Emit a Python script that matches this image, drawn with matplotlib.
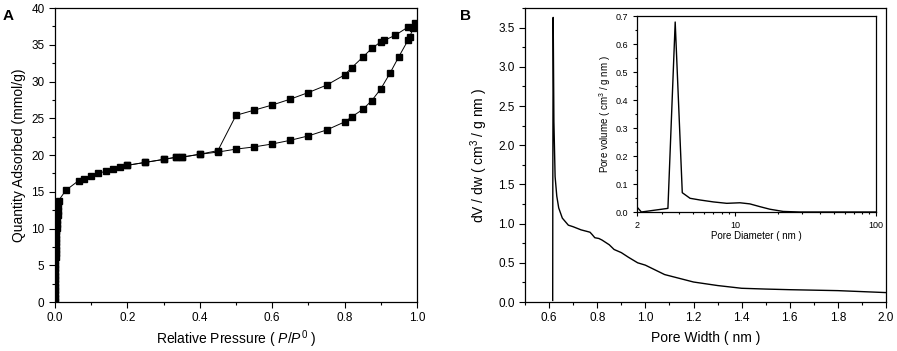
import numpy as np
import matplotlib
matplotlib.use("Agg")
import matplotlib.pyplot as plt
from matplotlib.ticker import MultipleLocator, LogLocator, FixedLocator, NullFormatter

plt.rcParams['font.family'] = ['Liberation Sans', 'DejaVu Sans']
plt.rcParams['mathtext.fontset'] = 'custom'
plt.rcParams['mathtext.rm'] = 'Liberation Sans'
plt.rcParams['mathtext.it'] = 'Liberation Sans:italic'

# Panel A: N2 isotherm, adsorption branch (dense points at very low pressure)
ads_p = [0.0001, 0.0002, 0.0003, 0.0004, 0.0005, 0.0006, 0.0007, 0.0008, 0.0009, 0.001,
         0.0012, 0.0014, 0.0016, 0.0018, 0.002, 0.0023, 0.0026, 0.003, 0.0035, 0.004,
         0.0045, 0.005, 0.006, 0.007, 0.008, 0.009, 0.01,
         0.03, 0.065, 0.08, 0.10, 0.12, 0.14, 0.16, 0.18, 0.20, 0.25, 0.30, 0.335, 0.35, 0.40,
         0.45, 0.50, 0.55, 0.60, 0.65, 0.70, 0.75, 0.80, 0.82, 0.85, 0.875, 0.90, 0.925,
         0.95, 0.975, 0.98, 0.99]
ads_q = [0.1, 0.6, 1.1, 1.6, 2.1, 2.6, 3.1, 3.6, 4.1, 4.6,
         5.1, 5.6, 6.1, 6.6, 7.1, 7.6, 8.1, 8.6, 9.1, 9.6,
         10.1, 10.6, 11.2, 11.8, 12.4, 13.0, 13.8,
         15.2, 16.5, 16.8, 17.2, 17.5, 17.8, 18.1, 18.3, 18.6, 19.0, 19.4, 19.7, 19.7, 20.1,
         20.4, 20.8, 21.1, 21.5, 22.0, 22.6, 23.4, 24.5, 25.2, 26.2, 27.4, 29.0, 31.1,
         33.4, 35.6, 36.1, 37.3]
# desorption branch
des_p = [0.995, 0.975, 0.94, 0.91, 0.90, 0.875, 0.85, 0.82, 0.80, 0.75, 0.70, 0.65, 0.60,
         0.55, 0.50, 0.45, 0.40, 0.35, 0.335, 0.30, 0.25, 0.20]
des_q = [37.9, 37.4, 36.3, 35.6, 35.4, 34.5, 33.3, 31.9, 30.9, 29.5, 28.5, 27.6, 26.8,
         26.1, 25.4, 20.6, 20.1, 19.7, 19.7, 19.4, 19.0, 18.6]

# Panel B: micropore size distribution
pw = [0.615, 0.6155, 0.617, 0.62, 0.625, 0.632, 0.64, 0.655, 0.68, 0.70, 0.733, 0.758, 0.77,
      0.779, 0.79, 0.807, 0.82, 0.85, 0.87, 0.90, 0.93, 0.968, 1.00, 1.08, 1.20, 1.30,
      1.40, 1.50, 1.60, 1.80, 2.00]
dvdw = [0.02, 1.5, 3.63, 2.3, 1.6, 1.35, 1.20, 1.07, 0.98, 0.96, 0.92, 0.90, 0.89,
        0.86, 0.82, 0.81, 0.79, 0.73, 0.67, 0.63, 0.57, 0.50, 0.47, 0.35, 0.255, 0.21,
        0.175, 0.165, 0.157, 0.145, 0.12]

# inset: mesopore distribution
pd_nm = [2.0, 2.15, 3.32, 3.74, 4.2, 4.77, 5.6, 7.0, 8.7, 10.8, 12.7, 15.0, 17.6, 21.9, 28.7, 50.0, 100.0]
pv = [0.018, 0.0, 0.013, 0.679, 0.069, 0.049, 0.043, 0.036, 0.031, 0.033, 0.029, 0.019, 0.010, 0.002, 0.0, 0.0, 0.0]


def style_axes(ax, fs=8.5):
    ax.tick_params(which='both', direction='out', top=False, right=False, labelsize=fs, width=0.8)
    ax.tick_params(which='major', length=4)
    ax.tick_params(which='minor', length=2)
    for s in ax.spines.values():
        s.set_linewidth(0.9)


fig = plt.figure(figsize=(8.97, 3.51), dpi=100)

axA = fig.add_axes([0.0613, 0.1396, 0.4036, 0.8376])
axA.plot(ads_p, ads_q, color='black', lw=0.7, marker='s', ms=5)
axA.plot(des_p, des_q, color='black', lw=0.7, marker='s', ms=5)
axA.set_xlim(0, 1.0)
axA.set_ylim(0, 40)
axA.xaxis.set_major_locator(MultipleLocator(0.2))
axA.xaxis.set_minor_locator(MultipleLocator(0.1))
axA.yaxis.set_major_locator(MultipleLocator(5))
axA.yaxis.set_minor_locator(MultipleLocator(2.5))
axA.xaxis.set_major_formatter(matplotlib.ticker.FormatStrFormatter('%.1f'))
style_axes(axA)
axA.set_xlabel(r'Relative Pressure ( $\mathit{P/P}^{\mathit{0}}$ )', fontsize=10, labelpad=3)
axA.set_ylabel('Quantity Adsorbed (mmol/g)', fontsize=10, labelpad=4)
fig.text(0.003, 0.975, 'A', fontsize=11, fontweight='bold', va='top')

axB = fig.add_axes([0.5853, 0.1396, 0.4025, 0.8376])
axB.plot(pw, dvdw, color='black', lw=1.0)
axB.set_xlim(0.5, 2.0)
axB.set_ylim(0, 3.75)
axB.xaxis.set_minor_locator(MultipleLocator(0.1))
axB.xaxis.set_major_locator(FixedLocator([0.6, 0.8, 1.0, 1.2, 1.4, 1.6, 1.8, 2.0]))
axB.yaxis.set_major_locator(MultipleLocator(0.5))
axB.yaxis.set_minor_locator(MultipleLocator(0.25))
axB.xaxis.set_major_formatter(matplotlib.ticker.FormatStrFormatter('%.1f'))
axB.yaxis.set_major_formatter(matplotlib.ticker.FormatStrFormatter('%.1f'))
style_axes(axB)
axB.set_xlabel('Pore Width ( nm )', fontsize=10, labelpad=5)
axB.set_ylabel(r'dV / dw ( cm$^3$ / g nm )', fontsize=10, labelpad=6)
fig.text(0.513, 0.975, 'B', fontsize=11, fontweight='bold', va='top')

axI = fig.add_axes([0.7101, 0.396, 0.2664, 0.558])
axI.plot(pd_nm, pv, color='black', lw=1.0)
axI.set_xscale('log')
axI.set_xlim(2, 100)
axI.set_ylim(0, 0.7)
axI.xaxis.set_major_locator(FixedLocator([2, 10, 100]))
axI.xaxis.set_major_formatter(matplotlib.ticker.FixedFormatter(['2', '10', '100']))
axI.xaxis.set_minor_locator(LogLocator(base=10, subs=np.arange(2, 10)))
axI.xaxis.set_minor_formatter(NullFormatter())
axI.yaxis.set_major_locator(MultipleLocator(0.1))
axI.yaxis.set_minor_locator(MultipleLocator(0.05))
style_axes(axI, fs=6.5)
axI.tick_params(which='major', length=3)
axI.tick_params(which='minor', length=1.5)
axI.set_xlabel('Pore Diameter ( nm )', fontsize=7, labelpad=1)
axI.set_ylabel(r'Pore volume ( cm$^3$ / g nm )', fontsize=7, labelpad=2)

fig.savefig('out.png', dpi=100)
